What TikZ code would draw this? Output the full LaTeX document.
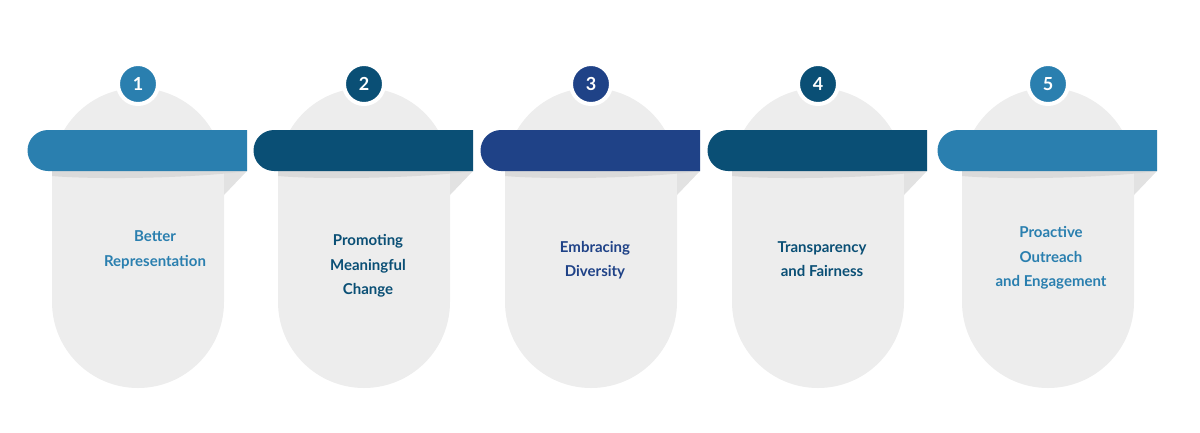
\documentclass[tikz,border=0pt]{standalone}
\usepackage{fontspec}
\setmainfont{Lato}
\definecolor{cA}{HTML}{2A7FAF}
\definecolor{cB}{HTML}{0A4F75}
\definecolor{cC}{HTML}{1F4287}
\definecolor{card}{HTML}{EDEDED}
\definecolor{shad}{HTML}{DADADA}
\definecolor{fold}{HTML}{E2E2E2}
\tikzset{lbl/.style={font=\bfseries\fontsize{15}{24.5}\selectfont,align=center},
num/.style={circle,minimum size=40pt,draw=white,line width=4pt,text=white,font=\bfseries\fontsize{18}{20}\selectfont,inner sep=0}}
\begin{document}
\begin{tikzpicture}[x=1pt,y=-1pt]
\useasboundingbox (0,0) rectangle (1200,432);
\foreach \i/\cx/\col/\tx/\ty/\txt in {1/138/cA/155/250/{Better\\Representation},2/364/cB/368/266/{Promoting\\Meaningful\\Change},3/591/cC/595/260/{Embracing\\Diversity},4/818/cB/822/259/{Transparency\\and Fairness},5/1048/cA/1051/258/{Proactive\\Outreach\\and Engagement}}{
 \fill[card] (\cx-86,174) arc[start angle=180,end angle=0,x radius=86,y radius=-86] -- (\cx+86,302) arc[start angle=0,end angle=-180,x radius=86,y radius=-86] -- cycle;
 \fill[fold] (\cx+86,171) -- (\cx+109,171) -- (\cx+86,195) -- cycle;
 \fill[shad] (\cx-86,171) -- (\cx+109,171) .. controls (\cx+60,178) and (\cx-40,180) .. (\cx-86,176) -- cycle;
 \fill[\col] (\cx+109,130) -- (\cx+109,171) -- (\cx-90,171) arc[start angle=90,end angle=270,radius=20.5] -- cycle;
 \node[num,fill=\col] (n\i) at (\cx,84) {\i};
 \node[lbl,text=\col] (t\i) at (\tx,\ty) {\txt};
}
\end{tikzpicture}
\end{document}
